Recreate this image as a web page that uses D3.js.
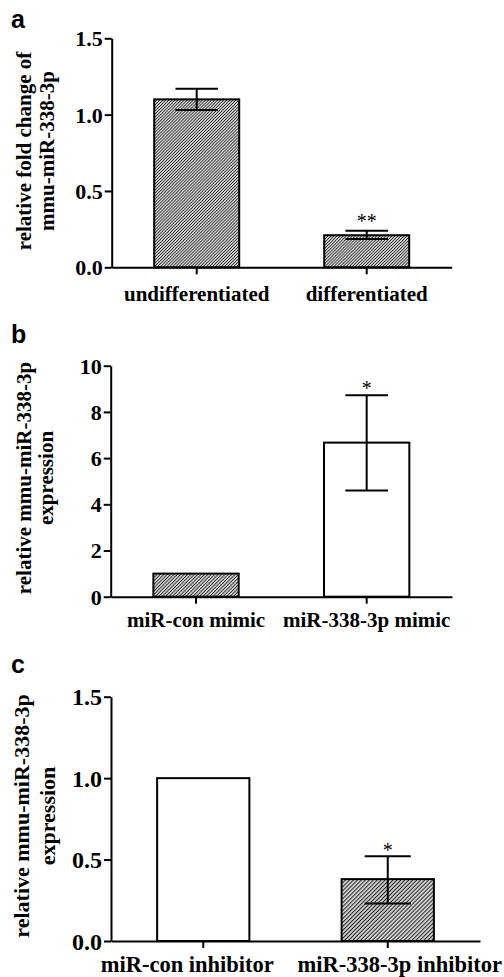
<!DOCTYPE html>
<html>
<head>
<meta charset="utf-8">
<script src="https://cdn.jsdelivr.net/npm/d3@7"></script>
<style>
  body { margin: 0; background: #fff; }
  svg text { font-family: "Liberation Serif", "Times New Roman", serif; font-weight: bold; fill: #000; }
  .panelLetter { font-family: "Liberation Sans", Arial, sans-serif !important; }
</style>
</head>
<body>
<svg id="fig" width="504" height="977"></svg>
<script>
/* DATA */
var catsA = ["undifferentiated", "differentiated"],
    meanA = [1.10, 0.21],
    errHiA = [1.17, 0.24],
    errLoA = [1.03, 0.185],
    hatchA = [true, true],
    starsA = ["", "**"],
    ticksA = [0, 0.5, 1.0, 1.5];

var catsB = ["miR-con mimic", "miR-338-3p mimic"],
    meanB = [1.0, 6.67],
    errHiB = [null, 8.72],
    errLoB = [null, 4.60],
    hatchB = [true, false],
    starsB = ["", "*"],
    ticksB = [0, 2, 4, 6, 8, 10];

var catsC = ["miR-con inhibitor", "miR-338-3p inhibitor"],
    meanC = [1.0, 0.38],
    errHiC = [null, 0.52],
    errLoC = [null, 0.23],
    hatchC = [false, true],
    starsC = ["", "*"],
    ticksC = [0, 0.5, 1.0, 1.5];

var svg = d3.select("#fig"),
    defs = svg.append("defs");

/* hatch pattern "/" (one per panel, the spacing differs a bit) */
function makeHatch(id, step) {
  var pat = defs.append("pattern")
      .attr("id", id)
      .attr("patternUnits", "userSpaceOnUse")
      .attr("width", step).attr("height", step)
      .attr("patternTransform", "rotate(45)");
  pat.append("rect").attr("width", step).attr("height", step).attr("fill", "#fff");
  pat.append("line").attr("x1", step / 2).attr("y1", 0).attr("x2", step / 2).attr("y2", step)
      .attr("stroke", "#222").attr("stroke-width", step * 0.48);
}

/* panel layouts */
var panels = [
  { letter: "a", letterY: 28, cats: catsA, mean: meanA, hi: errHiA, lo: errLoA, hatch: hatchA, stars: starsA,
    ticks: ticksA, fmt: d3.format(".1f"), yMax: 1.5, x0: 111.7, x1: 451.7, yTop: 38.3, yBot: 267.3,
    hatchStep: 2.15, tickFs: 22, catFs: 21, catDy: 34, catShift: [0, 0], starDy: -3,
    ylab: ["relative fold change of", "mmu-miR-338-3p"], ylabX: [30.5, 53.5], ylabY: 151, ylabFs: 21 },
  { letter: "b", letterY: 343, cats: catsB, mean: meanB, hi: errHiB, lo: errLoB, hatch: hatchB, stars: starsB,
    ticks: ticksB, fmt: d3.format("d"), yMax: 10, x0: 110.7, x1: 452, yTop: 365.7, yBot: 596.7,
    hatchStep: 2.4, tickFs: 22, catFs: 21, catDy: 30, catShift: [0, 0], starDy: 0,
    ylab: ["relative mmu-miR-338-3p", "expression"], ylabX: [30.5, 52.5], ylabY: 478, ylabFs: 21 },
  { letter: "c", letterY: 673, cats: catsC, mean: meanC, hi: errHiC, lo: errLoC, hatch: hatchC, stars: starsC,
    ticks: ticksC, fmt: d3.format(".1f"), yMax: 1.5, x0: 111, x1: 480, yTop: 696.7, yBot: 941,
    hatchStep: 2.8, tickFs: 24, catFs: 22.5, catDy: 31, catShift: [-16, 12], starDy: 1,
    ylab: ["relative mmu-miR-338-3p", "expression"], ylabX: [28.5, 55], ylabY: 816, ylabFs: 22 }
];

panels.forEach(function(p) {
  var g = svg.append("g"),
      hatchId = "hatch" + p.letter;
  makeHatch(hatchId, p.hatchStep);

  var x = d3.scaleBand().domain(p.cats).range([p.x0, p.x1])
      .paddingInner(0.5).paddingOuter(0.25);
  var y = d3.scaleLinear().domain([0, p.yMax]).range([p.yBot, p.yTop]);

  /* bars */
  g.selectAll("rect.bar").data(p.cats).enter().append("rect")
      .attr("class", "bar")
      .attr("x", function(d) { return x(d); })
      .attr("width", x.bandwidth())
      .attr("y", function(d, i) { return y(p.mean[i]); })
      .attr("height", function(d, i) { return p.yBot - y(p.mean[i]); })
      .attr("fill", function(d, i) { return p.hatch[i] ? "url(#" + hatchId + ")" : "#fff"; })
      .attr("stroke", "#000").attr("stroke-width", 2);

  /* error bars */
  var cap = x.bandwidth() / 4;
  p.cats.forEach(function(c, i) {
    if (p.hi[i] == null) return;
    var cx = x(c) + x.bandwidth() / 2;
    g.append("line").attr("x1", cx).attr("x2", cx)
        .attr("y1", y(p.hi[i])).attr("y2", y(p.lo[i]))
        .attr("stroke", "#000").attr("stroke-width", 2);
    [p.hi[i], p.lo[i]].forEach(function(v) {
      g.append("line").attr("x1", cx - cap).attr("x2", cx + cap)
          .attr("y1", y(v)).attr("y2", y(v))
          .attr("stroke", "#000").attr("stroke-width", 2);
    });
    if (p.stars[i]) {
      g.append("text").attr("x", cx).attr("y", y(p.hi[i]) + p.starDy)
          .attr("text-anchor", "middle").style("font-size", "20px").style("font-weight", "normal")
          .text(p.stars[i]);
    }
  });

  /* y axis */
  var yAxis = g.append("g").attr("transform", "translate(" + p.x0 + ",0)")
      .call(d3.axisLeft(y).tickValues(p.ticks).tickFormat(p.fmt).tickSize(7).tickSizeOuter(0).tickPadding(2));
  yAxis.select(".domain").attr("stroke-width", 2);
  yAxis.selectAll(".tick line").attr("stroke-width", 2);
  yAxis.selectAll("text").attr("font-family", null).style("font-size", p.tickFs + "px").attr("dy", "0.34em");

  /* x axis */
  var xAxis = g.append("g").attr("transform", "translate(0," + p.yBot + ")")
      .call(d3.axisBottom(x).tickSize(7).tickSizeOuter(0));
  xAxis.select(".domain").attr("stroke-width", 2);
  xAxis.selectAll(".tick line").attr("stroke-width", 2);
  xAxis.selectAll("text").attr("font-family", null).style("font-size", p.catFs + "px")
      .attr("x", function(d, i) { return p.catShift[i]; })
      .attr("y", p.catDy).attr("dy", 0);

  /* y label */
  p.ylab.forEach(function(t, k) {
    g.append("text")
        .attr("transform", "translate(" + p.ylabX[k] + "," + p.ylabY + ") rotate(-90)")
        .attr("text-anchor", "middle").style("font-size", p.ylabFs + "px")
        .text(t);
  });

  /* panel letter */
  svg.append("text").attr("class", "panelLetter")
      .attr("x", 11).attr("y", p.letterY)
      .style("font-size", "25px")
      .text(p.letter);
});
</script>
</body>
</html>
